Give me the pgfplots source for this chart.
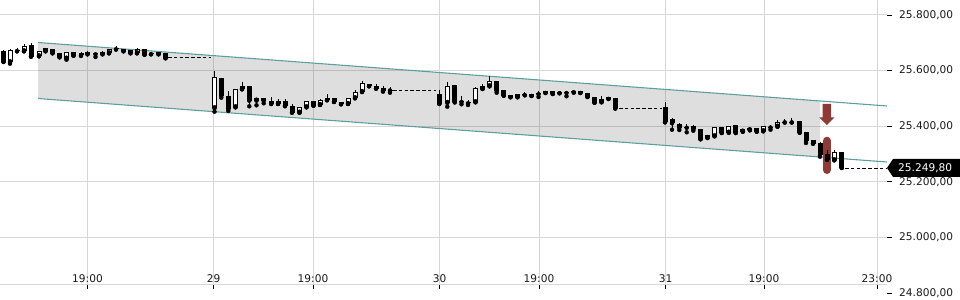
\documentclass[border=0pt]{standalone}
\usepackage{fontspec}
\setmainfont{DejaVu Sans}
\usepackage{pgfplots}
\usepackage{pgfplotstable}
\pgfplotsset{compat=1.18}
\definecolor{chan}{RGB}{95,158,160}
\definecolor{gridc}{RGB}{216,216,216}
\definecolor{redc}{RGB}{143,58,52}

% bearish / doji candles: x (pixel position on the time axis), open, high, low, close
\pgfplotstableread{
x o h l c
3.5 25671.6 25674.1 25630.9 25632.0
17 25674.1 25682.4 25669.4 25669.4
31 25691.0 25698.2 25650.0 25650.0
52.5 25676.6 25676.6 25662.2 25662.2
59.5 25662.2 25662.2 25647.8 25647.8
73.5 25665.8 25665.8 25653.6 25653.6
81 25662.2 25665.8 25652.5 25655.0
87.5 25665.8 25670.5 25658.6 25658.6
95.5 25662.2 25662.2 25648.9 25658.6
102.5 25665.8 25670.5 25658.6 25658.6
116 25679.5 25688.5 25675.9 25675.9
123.5 25676.6 25676.6 25669.4 25669.4
130.5 25673.0 25673.0 25662.2 25662.2
144.5 25676.6 25676.6 25657.2 25657.2
151 25662.2 25665.8 25658.6 25658.6
158.5 25665.8 25665.8 25658.6 25658.6
165.5 25662.2 25662.2 25644.3 25644.3
221.3 25572.3 25572.3 25502.5 25509.7
228.3 25508.6 25526.6 25454.7 25460.8
249.3 25544.6 25544.6 25471.6 25491.7
263.7 25500.4 25500.4 25482.4 25491.7
271.2 25490.7 25504.0 25479.9 25479.9
285 25489.6 25496.8 25471.6 25473.8
292 25472.7 25478.8 25448.6 25448.6
313.5 25489.6 25489.6 25473.8 25473.8
327 25500.4 25515.8 25493.2 25493.2
334 25502.5 25502.5 25487.1 25487.1
341 25488.1 25488.1 25478.8 25478.8
369 25550.7 25550.7 25543.5 25543.5
376 25544.6 25551.8 25534.9 25534.9
383 25538.5 25543.5 25524.1 25527.7
390 25532.0 25539.9 25520.5 25528.4
439.3 25515.8 25530.2 25479.9 25479.9
454.7 25549.3 25549.3 25485.3 25487.1
461.5 25490.7 25507.6 25478.8 25487.1
468 25487.1 25494.3 25476.3 25482.4
496.7 25562.6 25562.6 25520.5 25526.6
503.7 25529.1 25529.1 25509.7 25509.7
510.5 25512.2 25512.2 25504.0 25504.0
524.7 25514.8 25523.0 25511.2 25511.2
531.5 25515.8 25515.8 25508.6 25508.6
538.5 25518.4 25525.5 25505.0 25514.8
545.5 25526.6 25526.6 25519.4 25519.4
552.7 25525.5 25525.5 25515.8 25515.8
559.5 25523.0 25523.0 25518.4 25518.4
566.5 25523.0 25523.0 25507.6 25519.4
573.7 25525.5 25531.3 25520.5 25522.0
580.3 25526.6 25526.6 25519.4 25519.4
587.5 25519.4 25519.4 25505.0 25505.0
594.5 25505.0 25505.0 25484.5 25484.5
608.5 25504.0 25506.1 25497.9 25497.9
615.3 25501.4 25501.4 25463.7 25463.7
665 25468.0 25488.1 25414.0 25414.0
672 25424.8 25430.6 25387.4 25410.4
679.3 25409.0 25411.5 25386.3 25394.6
686.7 25397.8 25407.9 25378.1 25394.2
693.3 25400.7 25405.4 25383.8 25388.9
700.5 25388.9 25388.9 25352.9 25352.9
721.7 25396.0 25396.0 25375.5 25375.5
735.7 25403.2 25403.2 25375.5 25375.5
756.7 25393.5 25393.5 25380.2 25380.2
770.5 25398.9 25404.3 25387.4 25395.3
784.7 25416.9 25425.9 25413.3 25413.3
791.7 25416.9 25428.4 25413.3 25413.3
799.7 25418.7 25418.7 25376.6 25376.6
806 25378.1 25378.1 25339.6 25346.8
813 25351.4 25351.4 25337.1 25337.1
820 25338.5 25344.3 25290.3 25295.3
827 25298.9 25314.4 25279.5 25279.5
841.7 25306.1 25306.1 25249.8 25249.8
}\bear

% bullish (hollow) candles: x, open, high, low, close
\pgfplotstableread{
x o h l c
10 25629.9 25675.9 25624.8 25674.1
24 25669.4 25695.7 25669.4 25688.5
39 25651.4 25669.4 25651.4 25669.4
45.5 25669.4 25679.5 25669.4 25679.5
66.5 25642.8 25665.8 25639.2 25665.8
109 25662.2 25676.6 25662.2 25676.6
137 25662.2 25680.2 25662.2 25676.6
214.5 25464.4 25599.6 25452.2 25575.9
235.5 25468.0 25534.9 25468.0 25532.7
242 25532.7 25559.0 25532.7 25543.5
256.5 25491.7 25502.5 25475.2 25502.5
278 25479.9 25498.9 25479.9 25489.6
299.5 25448.6 25469.1 25448.6 25469.1
306.5 25468.0 25490.7 25468.0 25490.7
320 25476.3 25497.9 25476.3 25494.3
348 25479.9 25500.4 25479.9 25500.4
355 25500.4 25529.1 25500.4 25523.0
362 25523.0 25563.7 25523.0 25555.4
447.3 25483.5 25559.0 25470.2 25544.6
475.5 25486.0 25542.1 25486.0 25536.3
482.5 25533.8 25551.8 25533.8 25544.6
489.5 25543.5 25580.6 25543.5 25562.6
517.5 25504.0 25514.8 25504.0 25514.8
601.5 25486.0 25507.6 25486.0 25497.9
707.5 25357.6 25368.3 25357.6 25368.3
714.5 25363.7 25396.0 25363.7 25396.0
728.8 25376.6 25401.8 25376.6 25401.8
742.8 25380.2 25391.0 25380.2 25391.0
749.8 25385.3 25397.1 25385.3 25394.6
763.3 25381.7 25399.6 25381.7 25399.6
777.5 25398.2 25423.4 25398.2 25414.0
834.3 25277.4 25314.4 25277.4 25306.1
}\bull

\begin{document}
\begin{tikzpicture}
\begin{axis}[
  at={(0,0)}, anchor=south west,
  scale only axis, width=887bp, height=284bp,
  xmin=0, xmax=887, ymin=24832.38, ymax=25853.96,
  axis line style={draw=none},
  xtick={87.5,213.5,313,439.5,539,665.5,764,877},
  xticklabels={19:00,29,19:00,30,19:00,31,19:00,23:00},
  ytick={25000,25200,25400,25600,25800},
  scaled y ticks=false,
  xtick pos=left, ytick pos=right, yticklabel pos=right,
  grid=major, major grid style={draw=gridc, line width=1bp},
  tick align=outside, major tick length=5bp,
  tick style={black, line width=0.8bp},
  tick label style={font=\fontsize{10.6bp}{12bp}\selectfont, text=black!90},
  xticklabel style={anchor=base, yshift=7bp},
  yticklabel style={anchor=west, inner sep=0pt, xshift=7bp},
  /pgf/number format/assume math mode=true,
  yticklabel={\pgfmathprintnumber[fixed, fixed zerofill, precision=2, use comma, 1000 sep={.}]{\tick}},
  clip=true,
]
\coordinate (BL) at (rel axis cs:0,0);
% trend channel
\addplot[draw=none, fill=black, fill opacity=0.13, forget plot] coordinates {(38,25701.1) (820,25490.7) (820,25289.2) (38,25499.6)} -- cycle;
\addplot[chan, line width=1.1bp, forget plot] coordinates {(38,25701.1) (887,25472.7)};
\addplot[chan, line width=1.1bp, forget plot] coordinates {(38,25499.6) (887,25271.2)};
% closed-market dashed levels
\addplot[black, line width=0.9bp, dash pattern=on 3.5bp off 2.3bp, forget plot] coordinates {(168,25646) (211,25646)};
\addplot[black, line width=0.9bp, dash pattern=on 3.5bp off 2.3bp, forget plot] coordinates {(393,25530.2) (436,25530.2)};
\addplot[black, line width=0.9bp, dash pattern=on 3.5bp off 2.3bp, forget plot] coordinates {(619,25464.4) (662,25464.4)};
\addplot[black, line width=0.9bp, dash pattern=on 3.5bp off 2.3bp, forget plot] coordinates {(845,25249.8) (887,25249.8)};
% signal marks
\addplot[redc, line width=8.3bp, line cap=round, forget plot] coordinates {(826.9,25347.3) (826.9,25243.0)};
\addplot[fill=redc, draw=none, forget plot] coordinates {(822.7,25479.9) (831,25479.9) (831,25432.0) (834.5,25432.0) (826.85,25404.3) (819.2,25432.0) (822.7,25432.0)} -- cycle;
% wicks
\addplot[only marks, mark=none, forget plot, error bars/.cd, y dir=plus, y explicit, error mark=none,
  error bar style={draw=black, line width=1bp}]
  table[x=x, y=l, y error plus expr={\thisrow{h}-\thisrow{l}}] \bear;
\addplot[only marks, mark=none, forget plot, error bars/.cd, y dir=plus, y explicit, error mark=none,
  error bar style={draw=black, line width=1bp}]
  table[x=x, y=l, y error plus expr={\thisrow{h}-\thisrow{l}}] \bull;
% bodies
\addplot[only marks, mark=none, forget plot, error bars/.cd, y dir=plus, y explicit, error mark=none,
  error bar style={draw=black, line width=5bp}]
  table[x=x, y=c, y error plus expr={\thisrow{o}-\thisrow{c}}] \bear;
\addplot[only marks, mark=none, forget plot, error bars/.cd, y dir=plus, y explicit, error mark=none,
  error bar style={draw=black, line width=5bp}]
  table[x=x, y=o, y error plus expr={\thisrow{c}-\thisrow{o}}] \bull;
\addplot[only marks, mark=none, forget plot, error bars/.cd, y dir=plus, y explicit, error mark=none,
  error bar style={draw=white, line width=3bp}]
  table[x=x, y expr={\thisrow{o}+3.6}, y error plus expr={max(\thisrow{c}-\thisrow{o}-7.2,0)}] \bull;
\coordinate (pm) at (axis cs:887,25249.8);
\end{axis}
% bottom axis line and the lowest price level, which lies below the plot area
\draw[gridc, line width=1bp] (BL) -- ([xshift=887bp]BL);
\draw[black, line width=0.8bp] ([xshift=887bp,yshift=-9bp]BL) -- ++(5bp,0);
\node[anchor=west, inner sep=0pt, text=black!90, font=\fontsize{10.6bp}{12bp}\selectfont] at ([xshift=899bp,yshift=-9bp]BL) {24.800,00};
% last price marker
\fill[black] (pm) -- ++(6bp,9bp) -- ++(80bp,0) -- ++(0,-18bp) -- ++(-80bp,0) -- cycle;
\node[anchor=west, inner sep=0pt, text=white, font=\fontsize{10.6bp}{12bp}\selectfont] at ([xshift=11bp,yshift=-0.5bp]pm) {25.249,80};
\pgfresetboundingbox
\path ([yshift=-16bp]BL) rectangle ([xshift=960bp,yshift=284bp]BL);
\end{tikzpicture}
\end{document}
